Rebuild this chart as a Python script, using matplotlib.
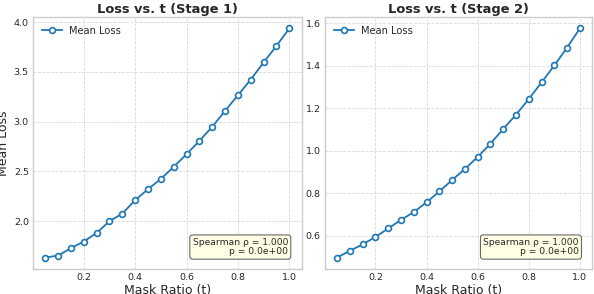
import matplotlib
matplotlib.use("Agg")
import matplotlib.pyplot as plt

# mask ratios and mean loss per stage
mask_ratio = [0.05, 0.10, 0.15, 0.20, 0.25, 0.30, 0.35, 0.40, 0.45, 0.50,
              0.55, 0.60, 0.65, 0.70, 0.75, 0.80, 0.85, 0.90, 0.95, 1.00]
loss_stage1 = [1.635, 1.655, 1.729, 1.796, 1.882, 2.000, 2.077, 2.211, 2.322, 2.425,
               2.546, 2.673, 2.807, 2.948, 3.109, 3.266, 3.424, 3.595, 3.762, 3.937]
loss_stage2 = [0.497, 0.529, 0.559, 0.594, 0.634, 0.674, 0.711, 0.757, 0.808, 0.862,
               0.914, 0.970, 1.033, 1.102, 1.169, 1.243, 1.321, 1.401, 1.485, 1.575]
titles = ["Loss vs. t (Stage 1)", "Loss vs. t (Stage 2)"]
spearman = [(1.000, 0.0), (1.000, 0.0)]

BLUE = "#1f77b4"
TEXT = "#262626"
GRIDC = "#d8d8d8"
SPINE = "#cccccc"

plt.rcParams["font.family"] = "DejaVu Sans"

fig = plt.figure(figsize=(5.94, 2.94), dpi=100)
ax1 = fig.add_axes([33/594, 25/294, 268.5/594, 252/294])
ax2 = fig.add_axes([325/594, 25/294, 267/594, 252/294])

for ax, loss, title, (rho, p) in zip([ax1, ax2], [loss_stage1, loss_stage2], titles, spearman):
    ax.plot(mask_ratio, loss, "-o", color=BLUE, lw=1.3, markersize=4.2,
            markerfacecolor="white", markeredgecolor=BLUE, markeredgewidth=1.2,
            label="Mean Loss")
    ax.set_title(title, fontsize=9.4, fontweight="bold", color=TEXT, pad=3)
    ax.set_xlabel("Mask Ratio (t)", fontsize=9.0, color=TEXT, labelpad=1)
    ax.grid(True, linestyle="--", color=GRIDC, linewidth=0.6)
    ax.set_axisbelow(True)
    for s in ax.spines.values():
        s.set_color(SPINE)
        s.set_linewidth(1.0)
    ax.tick_params(axis="both", length=0, labelsize=6.8, labelcolor=TEXT, pad=3)
    ax.set_xticks([0.2, 0.4, 0.6, 0.8, 1.0])
    leg = ax.legend(loc="upper left", fontsize=7.1, frameon=False,
                    handlelength=2.0, handletextpad=0.8, borderaxespad=0.5)
    for t in leg.get_texts():
        t.set_color(TEXT)
    ax.text(0.95, 0.05, f"Spearman ρ = {rho:.3f}\np = {p:.1e}",
            transform=ax.transAxes, ha="right", va="bottom", fontsize=6.6,
            color=TEXT, linespacing=1.1,
            bbox=dict(boxstyle="round,pad=0.3", facecolor="#fffde4",
                      edgecolor="#555555", linewidth=0.7))

ax1.set_yticks([2.0, 2.5, 3.0, 3.5, 4.0])
ax2.set_yticks([0.6, 0.8, 1.0, 1.2, 1.4, 1.6])
ax1.set_ylabel("Mean Loss", fontsize=9.0, color=TEXT, labelpad=3)

fig.savefig("out.png", dpi=100)
